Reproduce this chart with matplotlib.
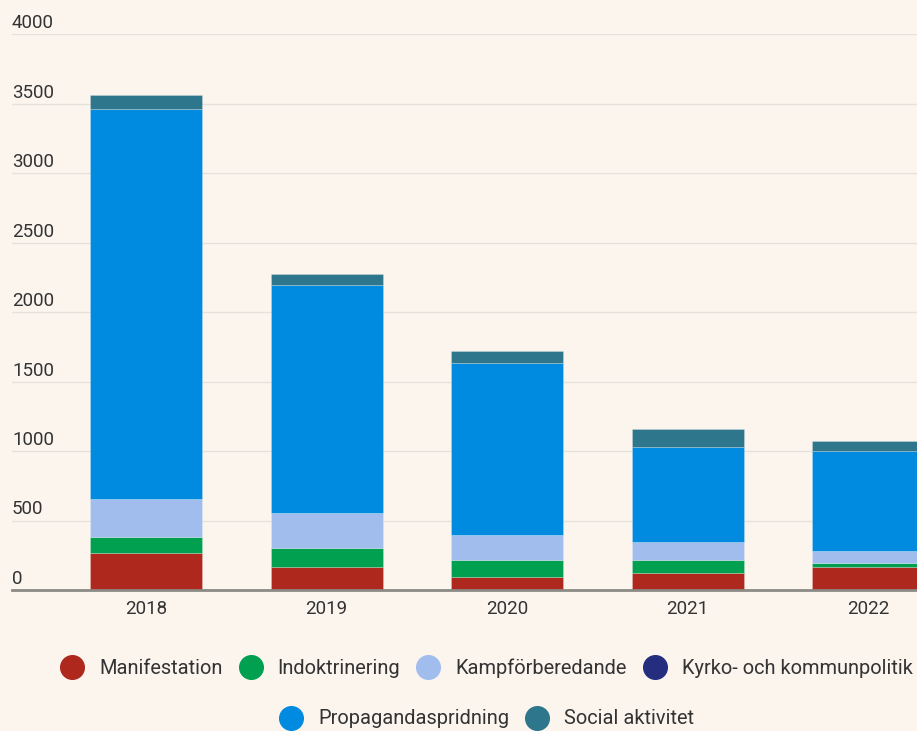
import numpy as np
import matplotlib.pyplot as plt
from matplotlib.lines import Line2D

plt.rcParams['font.family'] = ['Roboto', 'DejaVu Sans']

years = ['2018', '2019', '2020', '2021', '2022']

manifestation = [264, 168, 91, 125, 168]
indoktrinering = [115, 132, 123, 89, 24]
kampforberedande = [274, 252, 184, 129, 87]
kyrko = [0, 0, 0, 0, 0]
propaganda = [2808, 1644, 1236, 689, 719]
social = [105, 79, 87, 129, 77]

labels = ['Manifestation', 'Indoktrinering', 'Kampförberedande',
          'Kyrko- och kommunpolitik', 'Propagandaspridning', 'Social aktivitet']
colors = ['#ae281e', '#00a050', '#a1bdee', '#252d7e', '#008ae0', '#2e768b']
series = [manifestation, indoktrinering, kampforberedande, kyrko, propaganda, social]

yticks = [0, 500, 1000, 1500, 2000, 2500, 3000, 3500, 4000]

bg = '#fbf5ee'
fig = plt.figure(figsize=(9.17, 7.31), dpi=100, facecolor=bg)
ax = fig.add_axes([12 / 917, 1 - 590 / 731, 1 - 12 / 917, (590 - 34.3) / 731])
ax.set_facecolor(bg)

x = np.arange(len(years))
bottom = np.zeros(len(years))
for vals, col, lab in zip(series, colors, labels):
    ax.bar(x, vals, width=0.62, bottom=bottom, color=col, label=lab,
           edgecolor=(1, 1, 1, 0.25), linewidth=0.6, zorder=3)
    bottom += np.array(vals)

ax.set_xlim(-0.742, 4.27)
ax.set_ylim(0, 4000)
ax.set_yticks(yticks)
ax.set_yticklabels([])
ax.tick_params(axis='y', length=0)
ax.grid(axis='y', color='#e6e1da', linewidth=1, zorder=0)
for t in yticks:
    ax.text(0, t + 15, str(t), transform=ax.get_yaxis_transform(),
            ha='left', va='bottom', fontsize=13.5, color='#333333')

ax.set_xticks(x)
ax.set_xticklabels(years, fontsize=13.5, color='#333333')
ax.tick_params(axis='x', length=0, pad=7)

for s in ['top', 'right', 'left']:
    ax.spines[s].set_visible(False)
ax.spines['bottom'].set_color('#8c8a86')
ax.spines['bottom'].set_linewidth(2)
ax.spines['bottom'].set_zorder(4)

handles = [Line2D([0], [0], marker='o', linestyle='', markersize=17,
                  markerfacecolor=c, markeredgecolor=c) for c in colors]

leg1 = fig.legend(handles[:4], labels[:4], loc='center', ncol=4,
                  bbox_to_anchor=(485 / 917, 1 - 668 / 731), frameon=False,
                  fontsize=14.4, handletextpad=0.6, columnspacing=0.65,
                  handlelength=1.5, labelcolor='#333333')
leg2 = fig.legend(handles[4:], labels[4:], loc='center', ncol=2,
                  bbox_to_anchor=(485 / 917, 1 - 719 / 731), frameon=False,
                  fontsize=14.4, handletextpad=0.6, columnspacing=0.65,
                  handlelength=1.5, labelcolor='#333333')

fig.savefig('out.png', dpi=100, facecolor=bg)
